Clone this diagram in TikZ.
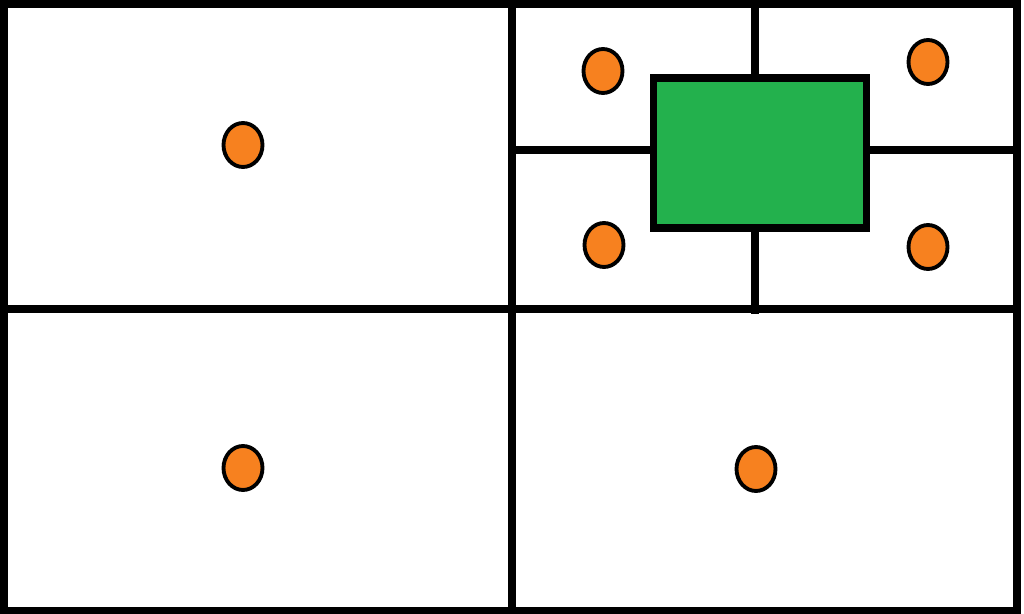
\documentclass[tikz,border=0pt]{standalone}
\usetikzlibrary{shapes.geometric}
\definecolor{dotcolor}{HTML}{F7811F}
\definecolor{boxcolor}{HTML}{23B14D}
\tikzset{
  grid line/.style={black,line width=4.4pt},
  grid dot/.style={ellipse,draw=black,fill=dotcolor,line width=2.2pt,
    minimum width=.78cm,minimum height=.88cm,inner sep=0pt},
  grid box/.style={rectangle,draw=black,fill=boxcolor,line width=4.4pt,
    minimum width=4.26cm,minimum height=3cm,inner sep=0pt}
}
\begin{document}
\begin{tikzpicture}[x=.02cm,y=-.02cm]
  \useasboundingbox (0,0) rectangle (1024,614);
  % quadrants
  \draw[grid line] (4,4) rectangle (1017,611);
  \draw[grid line] (512,4)--(512,611);
  \draw[grid line] (4,309)--(1017,309);
  % split upper right quadrant
  \node[grid box] (box) at (760,153) {};
  \coordinate (qtop) at (755,4);
  \coordinate (qbot) at (755,314);
  \coordinate (qleft) at (512,150);
  \coordinate (qright) at (1017,150);
  \draw[grid line] (qtop)--(qtop |- box.north);
  \draw[grid line] (qbot |- box.south)--(qbot);
  \draw[grid line] (qleft)--(qleft -| box.west);
  \draw[grid line] (qright -| box.east)--(qright);
  % points
  \foreach \name/\x/\y in {a/243/145,b/243/468,c/756/469,d/603/71,e/604/245,f/928/62,g/928/247}
    {\node[grid dot] (dot\name) at (\x,\y) {};}
\end{tikzpicture}
\end{document}
